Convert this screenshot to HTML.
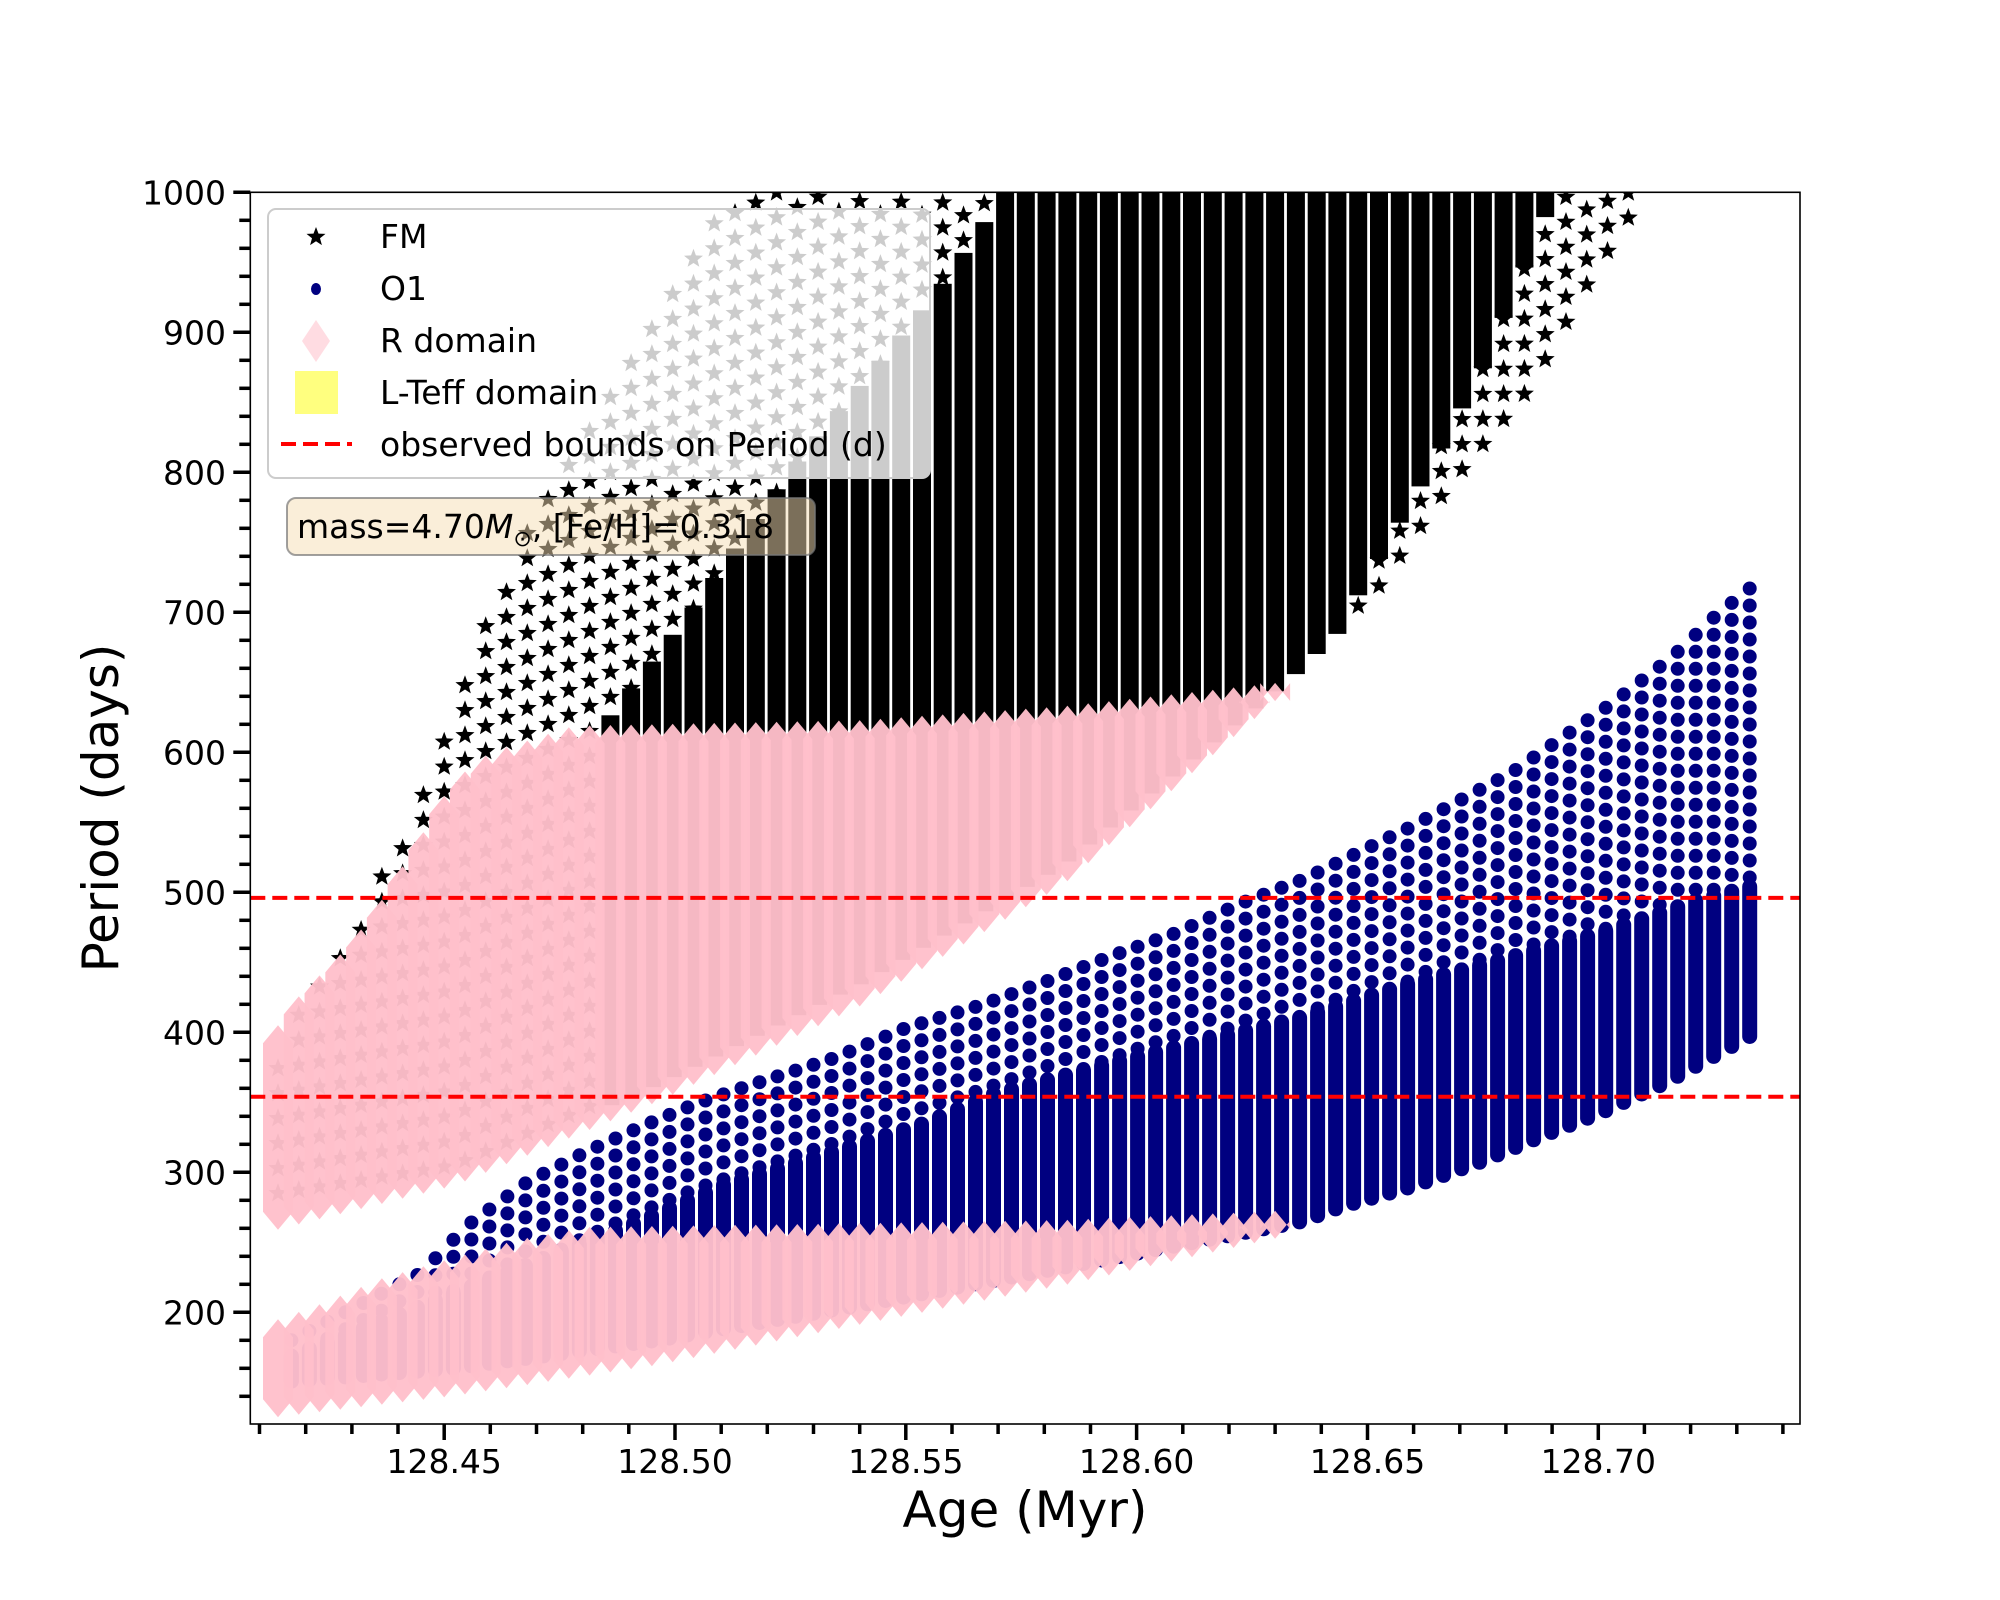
<!DOCTYPE html>
<html>
<head>
<meta charset="utf-8">
<style>
  html, body { margin: 0; padding: 0; background: #ffffff; }
  svg { display: block; }
  text { font-family: "DejaVu Sans", "Liberation Sans", sans-serif; fill: #000; }
</style>
</head>
<body>
<svg id="chart" xmlns="http://www.w3.org/2000/svg" width="2000" height="1600" viewBox="0 0 2000 1600">
  <defs>
    <clipPath id="plotClip"><rect x="250.3" y="192.3" width="1549.7" height="1231.7"/></clipPath>
  </defs>
  <rect x="0" y="0" width="2000" height="1600" fill="#ffffff"/>
  <g id="plot" clip-path="url(#plotClip)">
    <g id="gFM"></g>
    <g id="gO1"></g>
    <g id="gR"></g>
    <g id="gBounds"></g>
  </g>
  <g id="gAxes"></g>

  <g>
    <rect x="268" y="209" width="662" height="269" rx="8" fill="#ffffff" fill-opacity="0.8" stroke="#cccccc" stroke-width="2"/>
    <g>
      <path id="legStar" fill="#000"/>
      <text x="380" y="248" font-size="33">FM</text>
    </g>
    <g>
      <ellipse cx="316" cy="289" rx="5" ry="6" fill="#000080"/>
      <text x="380" y="300" font-size="33">O1</text>
    </g>
    <g>
      <path d="M316 320 L330 341 L316 362 L302 341 Z" fill="#ffc0cb" fill-opacity="0.55"/>
      <text x="380" y="352" font-size="33">R domain</text>
    </g>
    <g>
      <rect x="295" y="371" width="43" height="43" fill="#ffff00" fill-opacity="0.5"/>
      <text x="380" y="404" font-size="33">L-Teff domain</text>
    </g>
    <g>
      <line x1="281" y1="444" x2="352" y2="444" stroke="#ff0000" stroke-width="4" stroke-dasharray="15 7"/>
      <text x="380" y="456" font-size="33">observed bounds on Period (d)</text>
    </g>
  </g>

  <g>
    <rect x="287" y="498" width="528" height="57" rx="9" fill="#f5deb3" fill-opacity="0.5" stroke="#777" stroke-opacity="0.7" stroke-width="2"/>
    <text x="297" y="538" font-size="33">mass=4.70<tspan font-style="italic">M</tspan><tspan font-size="22" dy="8">⊙</tspan><tspan dy="-8">, [Fe/H]=0.318</tspan></text>
  </g>

  <text x="1025" y="1527" font-size="50" text-anchor="middle">Age (Myr)</text>
  <text x="0" y="0" font-size="50" text-anchor="middle" transform="translate(118,808) rotate(-90)">Period (days)</text>
</svg>

<script>
// ---------- data ----------
const xTickValues = [128.45, 128.50, 128.55, 128.60, 128.65, 128.70];
const xTickLabels = ["128.45", "128.50", "128.55", "128.60", "128.65", "128.70"];
const yTickValues = [200, 300, 400, 500, 600, 700, 800, 900, 1000];
const yTickLabels = ["200", "300", "400", "500", "600", "700", "800", "900", "1000"];
const periodBounds = [496, 354];

// FM envelopes
const fmHiAges = [128.414, 128.434, 128.442, 128.455, 128.461, 128.479, 128.4935, 128.5054, 128.512, 128.709];
const fmHi     = [390, 495, 550, 660, 712, 834, 903, 966, 1000, 1000];
const fmLoAges = [128.414, 128.452, 128.496, 128.54, 128.584, 128.634, 128.6525, 128.6677, 128.685, 128.698, 128.709];
const fmLo     = [285, 305, 368, 440, 525, 660, 719, 791, 860, 937, 995];
const fmDenseHiAges = [128.4816, 128.5032, 128.525, 128.557, 128.5725, 128.709];
const fmDenseHi     = [602, 694, 796, 924, 1000, 1000];
const fmDenseLoAges = [128.414, 128.635, 128.6475, 128.664, 128.675, 128.69];
const fmDenseLo     = [0, 0, 715, 810, 880, 1000];

// O1 envelopes
const o1LoAges = [128.414, 128.452, 128.496, 128.54, 128.584, 128.636, 128.644, 128.66, 128.675, 128.6895, 128.7003, 128.7147, 128.7328];
const o1Lo     = [150, 160, 180, 205, 232, 265, 275, 290, 308, 328, 342, 364, 397];
const o1DenseAges = [128.414, 128.49, 128.5105, 128.5325, 128.554, 128.569, 128.598, 128.636, 128.657, 128.679, 128.7003, 128.722, 128.7328];
const o1DenseHi   = [165, 262, 291, 313, 335, 356, 381, 411, 433, 452, 471, 495, 504];
const o1HiAges = [128.414, 128.445, 128.455, 128.468, 128.481, 128.493, 128.5046, 128.517, 128.534, 128.55, 128.566, 128.581, 128.595, 128.6086, 128.6233, 128.636, 128.659, 128.6815, 128.703, 128.716, 128.7256, 128.7328];
const o1Hi     = [175, 228, 262, 293, 315, 333, 349, 363, 381, 403, 419, 437, 455, 471, 493, 509, 546, 586, 635, 668, 698, 717];

// R domain bands
const r1LoAges = [128.414, 128.452, 128.496, 128.5398, 128.584, 128.634];
const r1Lo     = [259, 290, 350, 418, 505, 648];
const r1HiAges = [128.414, 128.4183, 128.43, 128.437, 128.445, 128.452, 128.46, 128.478, 128.54, 128.584, 128.634];
const r1Hi     = [405, 425, 464, 497, 540, 580, 600, 619, 623, 633, 651];
const r2LoAges = [128.414, 128.452, 128.496, 128.54, 128.584, 128.6335];
const r2Lo     = [125, 140, 162, 191, 219, 255];
const r2HiAges = [128.414, 128.4225, 128.437, 128.466, 128.481, 128.525, 128.584, 128.6335];
const r2Hi     = [195, 205, 225, 252, 261, 263, 266, 273];

// ---------- scales ----------
const X0 = 250.3, X1 = 1800, Y0 = 192.3, Y1 = 1424;
const AGE_MIN = 128.408, AGE_MAX = 128.7437, P_MIN = 120.2, P_MAX = 1000;
function xScale(a) { return X0 + (a - AGE_MIN) / (AGE_MAX - AGE_MIN) * (X1 - X0); }
function yScale(p) { return Y0 + (P_MAX - p) / (P_MAX - P_MIN) * (Y1 - Y0); }
function interp(xs, ys, x) {
  if (x <= xs[0]) return ys[0];
  if (x >= xs[xs.length - 1]) return ys[ys.length - 1];
  for (let i = 1; i < xs.length; i++) {
    if (x <= xs[i]) { const t = (x - xs[i-1]) / (xs[i] - xs[i-1]); return ys[i-1] + t * (ys[i] - ys[i-1]); }
  }
  return ys[ys.length - 1];
}
const NS = "http://www.w3.org/2000/svg";
function mk(tag, attrs, parent) {
  const el = document.createElementNS(NS, tag);
  for (const k in attrs) el.setAttribute(k, attrs[k]);
  parent.appendChild(el);
  return el;
}
function starD(cx, cy, R) {
  const r = R * 0.42; let d = "";
  for (let i = 0; i < 10; i++) {
    const ang = -Math.PI / 2 + i * Math.PI / 5, rr = i % 2 ? r : R;
    d += (i ? "L" : "M") + (cx + rr * Math.cos(ang)).toFixed(1) + " " + (cy + rr * Math.sin(ang)).toFixed(1);
  }
  return d + "Z";
}
document.getElementById("legStar").setAttribute("d", starD(316, 237, 10));

// ---------- FM ----------
const gFM = document.getElementById("gFM");
const fmStep = 0.0045, starStepPx = 25;
for (let a = fmLoAges[0]; a <= fmHiAges[fmHiAges.length - 1] + 1e-9; a += fmStep) {
  const lo = interp(fmLoAges, fmLo, a), hi = interp(fmHiAges, fmHi, a);
  if (hi <= lo) continue;
  const x = xScale(a);
  let dLo = Math.max(lo, interp(fmDenseLoAges, fmDenseLo, a));
  let dHi = a >= fmDenseHiAges[0] ? Math.min(hi, interp(fmDenseHiAges, fmDenseHi, a)) : -1;
  let d = "";
  const hasDense = dHi > dLo;
  const yLo = yScale(lo), yHi = yScale(hi);
  for (let y = yLo; y >= yHi - 0.1; y -= starStepPx) {
    if (hasDense && y <= yScale(dLo) + 4 && y >= yScale(dHi) - 4) continue;
    d += starD(x, y, 10);
  }
  if (d) {
    const s = mk("path", { d: d, fill: "#000" }, gFM);
    
    
  }
  if (hasDense) {
    const yt = yScale(dHi), yb = yScale(dLo);
    const r = mk("rect", { x: (x - 9).toFixed(1), y: (yt - 8).toFixed(1), width: 18, height: (yb - yt + 16).toFixed(1), fill: "#000" }, gFM);
    
    
  }
}

// ---------- O1 ----------
const gO1 = document.getElementById("gO1");
const o1Step = 0.0039, dotStepPx = 17;
for (let a = o1HiAges[o1HiAges.length - 1]; a >= o1HiAges[0] - 1e-9; a -= o1Step) {
  const lo = interp(o1LoAges, o1Lo, a), hi = interp(o1HiAges, o1Hi, a);
  const dh = Math.min(hi, interp(o1DenseAges, o1DenseHi, a));
  const x = xScale(a);
  const bar = mk("line", { x1: x.toFixed(1), x2: x.toFixed(1), y1: yScale(lo).toFixed(1), y2: yScale(dh).toFixed(1), stroke: "#000080", "stroke-width": 15, "stroke-linecap": "round" }, gO1);
  
  
  let d = "";
  const yd = yScale(dh), yh = yScale(hi);
  for (let y = yh; y < yd; y += dotStepPx) {
    d += "M" + (x - 7).toFixed(1) + " " + y.toFixed(1) + "a7 7 0 1 0 14 0a7 7 0 1 0 -14 0Z";
  }
  if (d) {
    const p = mk("path", { d: d, fill: "#000080" }, gO1);
    
    
  }
}

// ---------- R domain ----------
const gR = document.getElementById("gR");
const rStep = 0.0045, hw = 15, hh = 18;
function rBand(loAges, loVals, hiAges, hiVals, name) {
  for (let a = loAges[0]; a <= loAges[loAges.length - 1] + 1e-9; a += rStep) {
    const lo = interp(loAges, loVals, a), hi = interp(hiAges, hiVals, a);
    const x = xScale(a), yt = yScale(hi), yb = yScale(lo);
    const d = "M" + x.toFixed(1) + " " + yt.toFixed(1) + "L" + (x + hw) + " " + (yt + hh).toFixed(1) +
      "L" + (x + hw) + " " + (yb - hh).toFixed(1) + "L" + x.toFixed(1) + " " + yb.toFixed(1) +
      "L" + (x - hw) + " " + (yb - hh).toFixed(1) + "L" + (x - hw) + " " + (yt + hh).toFixed(1) + "Z";
    const p = mk("path", { d: d, fill: "#ffc0cb", "fill-opacity": 0.96 }, gR);
    
    
  }
}
rBand(r1LoAges, r1Lo, r1HiAges, r1Hi, 'r-domain-fm-column');
rBand(r2LoAges, r2Lo, r2HiAges, r2Hi, 'r-domain-o1-column');

// ---------- observed bounds ----------
const gB = document.getElementById("gBounds");
periodBounds.forEach(function (p) {
  const l = mk("line", { x1: X0, x2: X1, y1: yScale(p).toFixed(1), y2: yScale(p).toFixed(1), stroke: "#ff0000", "stroke-width": 4, "stroke-dasharray": "15 7" }, gB);
  
  
});

// ---------- axes ----------
const gA = document.getElementById("gAxes");
const frame = mk("rect", { x: X0, y: Y0, width: X1 - X0, height: Y1 - Y0, fill: "none", stroke: "#000", "stroke-width": 1.6 }, gA);


for (let k = 41; k <= 74; k++) {
  const a = 128 + k / 100;
  const major = (k % 5 === 0);
  const x = xScale(a);
  const t = mk("line", { x1: x.toFixed(1), x2: x.toFixed(1), y1: Y1, y2: Y1 + (major ? 16 : 10), stroke: "#000", "stroke-width": 3.5 }, gA);
  
  
}
xTickValues.forEach(function (v, i) {
  const tx = mk("text", { x: xScale(v).toFixed(1), y: 1473, "font-size": 33, "text-anchor": "middle" }, gA);
  tx.textContent = xTickLabels[i];
  
  
});
for (let p = 140; p <= 1000; p += 20) {
  const major = (p % 100 === 0);
  const y = yScale(p);
  const t = mk("line", { x1: X0 - (major ? 17 : 11), x2: X0, y1: y.toFixed(1), y2: y.toFixed(1), stroke: "#000", "stroke-width": 3.5 }, gA);
  
  
}
yTickValues.forEach(function (v, i) {
  const ty = mk("text", { x: 226, y: (yScale(v) + 12).toFixed(1), "font-size": 33, "text-anchor": "end" }, gA);
  ty.textContent = yTickLabels[i];
  
  
});
</script>
</body>
</html>
